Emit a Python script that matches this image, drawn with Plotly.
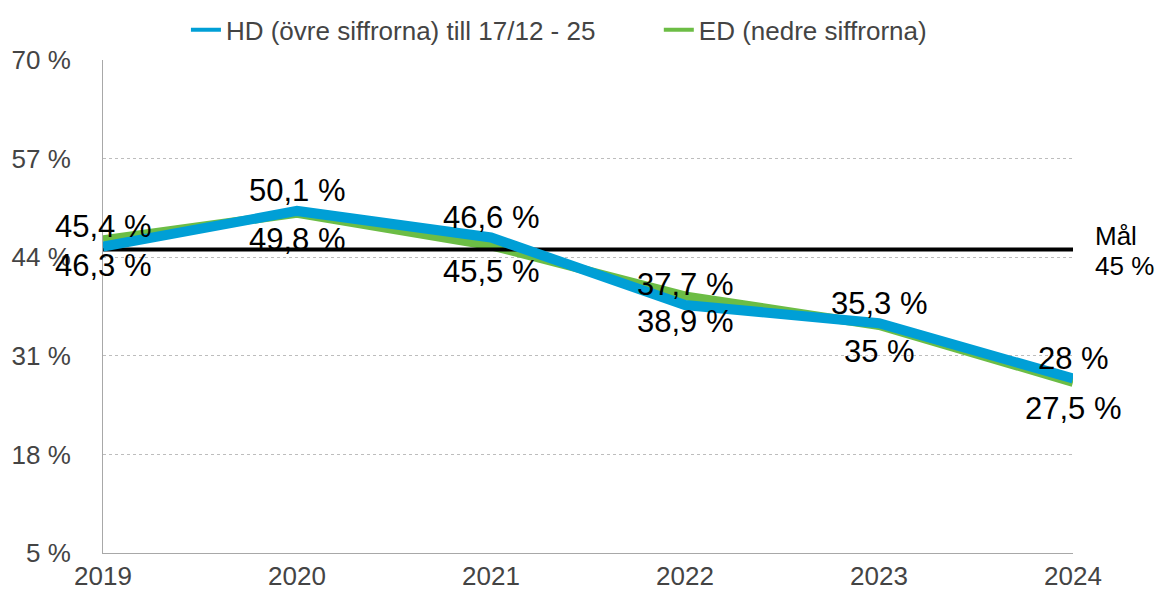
import plotly.graph_objects as go

YEARS = [2019, 2020, 2021, 2022, 2023, 2024]
HD_VALUES = [45.4, 50.1, 46.6, 37.7, 35.3, 28.0]
ED_VALUES = [46.3, 49.8, 45.5, 38.9, 35.0, 27.5]
TARGET = 45
Y_TICKS = [5, 18, 31, 44, 57, 70]

HD_NAME = "HD (övre siffrorna) till 17/12 - 25"
ED_NAME = "ED (nedre siffrorna)"
BLUE = "#009FD6"
GREEN = "#6CBD45"
FONT = "Liberation Sans, Arial, sans-serif"


def pct_label(value):
    return f"{value:g}".replace(".", ",") + " %"


fig = go.Figure()

# green under the target line, blue above it
fig.add_trace(go.Scatter(x=YEARS, y=ED_VALUES, mode="lines", showlegend=False,
                         line=dict(color=GREEN, width=9)))
fig.add_trace(go.Scatter(x=YEARS, y=[TARGET] * len(YEARS), mode="lines",
                         line=dict(color="black", width=4), showlegend=False,
                         hoverinfo="skip"))
fig.add_trace(go.Scatter(x=YEARS, y=HD_VALUES, mode="lines", showlegend=False,
                         line=dict(color=BLUE, width=10)))

# legend entries with thin samples, one legend box each
fig.add_trace(go.Scatter(x=[None], y=[None], mode="lines", name=HD_NAME,
                         line=dict(color=BLUE, width=4), legend="legend"))
fig.add_trace(go.Scatter(x=[None], y=[None], mode="lines", name=ED_NAME,
                         line=dict(color=GREEN, width=4), legend="legend2"))

# data labels: HD above, ED below
for year, hd, ed in zip(YEARS, HD_VALUES, ED_VALUES):
    fig.add_annotation(x=year, y=hd, text=pct_label(hd), showarrow=False,
                       yanchor="middle", yshift=20,
                       font=dict(size=31, color="black", family=FONT))
    fig.add_annotation(x=year, y=ed, text=pct_label(ed), showarrow=False,
                       yanchor="middle", yshift=-26,
                       font=dict(size=31, color="black", family=FONT))

fig.add_annotation(x=1, xref="paper", y=TARGET, yref="y", text="Mål",
                   xanchor="left", yanchor="middle", xshift=20, yshift=14,
                   showarrow=False, font=dict(size=26, color="black", family=FONT))
fig.add_annotation(x=1, xref="paper", y=TARGET, yref="y", text="45 %",
                   xanchor="left", yanchor="middle", xshift=20, yshift=-16,
                   showarrow=False, font=dict(size=26, color="black", family=FONT))

legend_style = dict(orientation="h", xanchor="left", y=1.061, yanchor="middle",
                    bgcolor="rgba(0,0,0,0)", font=dict(size=26, color="#444444"))

fig.update_layout(
    width=1159,
    height=595,
    margin=dict(l=103, r=86, t=60, b=42, autoexpand=False),
    plot_bgcolor="white",
    paper_bgcolor="white",
    font=dict(family=FONT, size=26, color="#444444"),
    legend=dict(x=0.0855, **legend_style),
    legend2=dict(x=0.573, **legend_style),
    showlegend=True,
)
fig.update_xaxes(
    range=[2019, 2024],
    tickvals=YEARS,
    showgrid=False,
    showline=True,
    linecolor="#A8A8A8",
    linewidth=1,
    zeroline=False,
    ticks="",
    automargin=False,
)
fig.update_yaxes(
    range=[5, 70],
    tickvals=Y_TICKS,
    ticktext=[f"{v} %" for v in Y_TICKS],
    showgrid=True,
    gridcolor="#BDBDBD",
    griddash="dot",
    gridwidth=1,
    showline=True,
    linecolor="#A8A8A8",
    linewidth=1,
    zeroline=False,
    ticks="",
    ticklabelstandoff=26,
    automargin=False,
)

fig.write_html("out.html", config={"displayModeBar": False},
               post_script="document.body.style.margin = '0';")
